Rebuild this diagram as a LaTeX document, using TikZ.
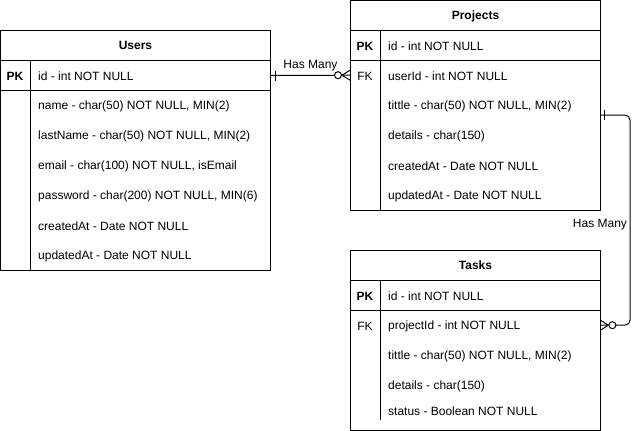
\documentclass[tikz,border=0pt]{standalone}
\usepackage{fontspec}
\setmainfont{Liberation Sans}
\usepackage{tikz}
\usetikzlibrary{calc}
\newcommand{\erfont}{\fontsize{12}{14}\selectfont}

\begin{document}
\begin{tikzpicture}[x=1pt, y=-1pt]
\tikzstyle{tablebox} = [draw, line width=1pt, inner sep=0pt, anchor=north west]
\tikzstyle{headrow} = [tablebox, minimum height=30pt, font=\erfont\bfseries, text depth=1pt]
\tikzstyle{keyrow} = [tablebox, minimum height=30pt]
\tikzstyle{fkrow} = [inner sep=0pt, anchor=north west, minimum height=30pt]
\tikzstyle{pktext} = [inner sep=0pt, yshift=-1pt, font=\erfont\bfseries]
\tikzstyle{fktext} = [inner sep=0pt, yshift=-1pt, font=\erfont]
\tikzstyle{field} = [inner sep=0pt, yshift=-1pt, anchor=west, font=\erfont]
\tikzstyle{link} = [line width=1pt]
\tikzstyle{linklabel} = [font=\erfont, inner sep=4pt]

\useasboundingbox (0,0) rectangle (640,431);

% Users
\node [tablebox, minimum width=270pt, minimum height=240pt] (users) at (0,30) {};
\node [headrow, minimum width=270pt] (usershead) at (0,30) {Users};
\node [keyrow, minimum width=270pt] (usersid) at (0,60) {};
\draw [link] (30,60) -- (30,270);
\node [pktext] (userspk) at (15,75) {PK};
\node [field] (uid) at (38,75) {id - int NOT NULL};
\node [field] (uname) at (38,105) {name - char(50) NOT NULL, MIN(2)};
\node [field] (ulastname) at (38,135) {lastName - char(50) NOT NULL, MIN(2)};
\node [field] (uemail) at (38,165) {email - char(100) NOT NULL, isEmail};
\node [field] (upassword) at (38,195) {password - char(200) NOT NULL, MIN(6)};
\node [field] (ucreated) at (38,225) {createdAt - Date NOT NULL};
\node [field] (uupdated) at (38,255) {updatedAt - Date NOT NULL};

% Projects
\node [tablebox, minimum width=250pt, minimum height=210pt] (projects) at (350,0) {};
\node [headrow, minimum width=250pt] (projectshead) at (350,0) {Projects};
\node [keyrow, minimum width=250pt] (projid) at (350,30) {};
\node [fkrow, minimum width=250pt] (projfk) at (350,60) {};
\draw [link] (380,30) -- (380,210);
\node [pktext] (projpk) at (365,45) {PK};
\node [fktext] (projfklabel) at (365,75) {FK};
\node [field] (pid) at (388,45) {id - int NOT NULL};
\node [field] (puser) at (388,75) {userId - int NOT NULL};
\node [field] (ptitle) at (388,105) {tittle - char(50) NOT NULL, MIN(2)};
\node [field] (pdetails) at (388,135) {details - char(150)};
\node [field] (pcreated) at (388,165) {createdAt - Date NOT NULL};
\node [field] (pupdated) at (388,195) {updatedAt - Date NOT NULL};
\coordinate (projout) at (600,115);

% Tasks
\node [tablebox, minimum width=250pt, minimum height=180pt] (tasks) at (350,250) {};
\node [headrow, minimum width=250pt] (taskshead) at (350,250) {Tasks};
\node [keyrow, minimum width=250pt] (taskid) at (350,280) {};
\node [fkrow, minimum width=250pt] (taskfk) at (350,310) {};
\draw [link] (380,280) -- (380,420);
\node [pktext] (taskpk) at (365,295) {PK};
\node [fktext] (taskfklabel) at (365,325) {FK};
\node [field] (tid) at (388,295) {id - int NOT NULL};
\node [field] (tproject) at (388,325) {projectId - int NOT NULL};
\node [field] (ttitle) at (388,355) {tittle - char(50) NOT NULL, MIN(2)};
\node [field] (tdetails) at (388,385) {details - char(150)};
\node [field] (tstatus) at (388,410) {status - Boolean NOT NULL};

% Users -> Projects
\draw [link] (usersid.east) -- (projfk.west) node [linklabel, midway, above] (rel1label) {Has Many};
\draw [link] ([xshift=4]usersid.east) ++(0,-5) -- ++(0,10);
\draw [link] ([xshift=-8]projfk.west) -- ++(8,-5);
\draw [link] ([xshift=-8]projfk.west) -- ++(8,5);
\draw [link, fill=white] ([xshift=-12]projfk.west) circle (3.5);

% Projects -> Tasks
\draw [link, rounded corners=5] (projout) -- ++(30,0) |- (taskfk.east);
\node [linklabel] (rel2label) at (600,225) {Has Many};
\draw [link] ([xshift=4]projout) ++(0,-5) -- ++(0,10);
\draw [link] ([xshift=8]taskfk.east) -- ++(-8,-5);
\draw [link] ([xshift=8]taskfk.east) -- ++(-8,5);
\draw [link, fill=white] ([xshift=12]taskfk.east) circle (3.5);
\end{tikzpicture}
\end{document}
